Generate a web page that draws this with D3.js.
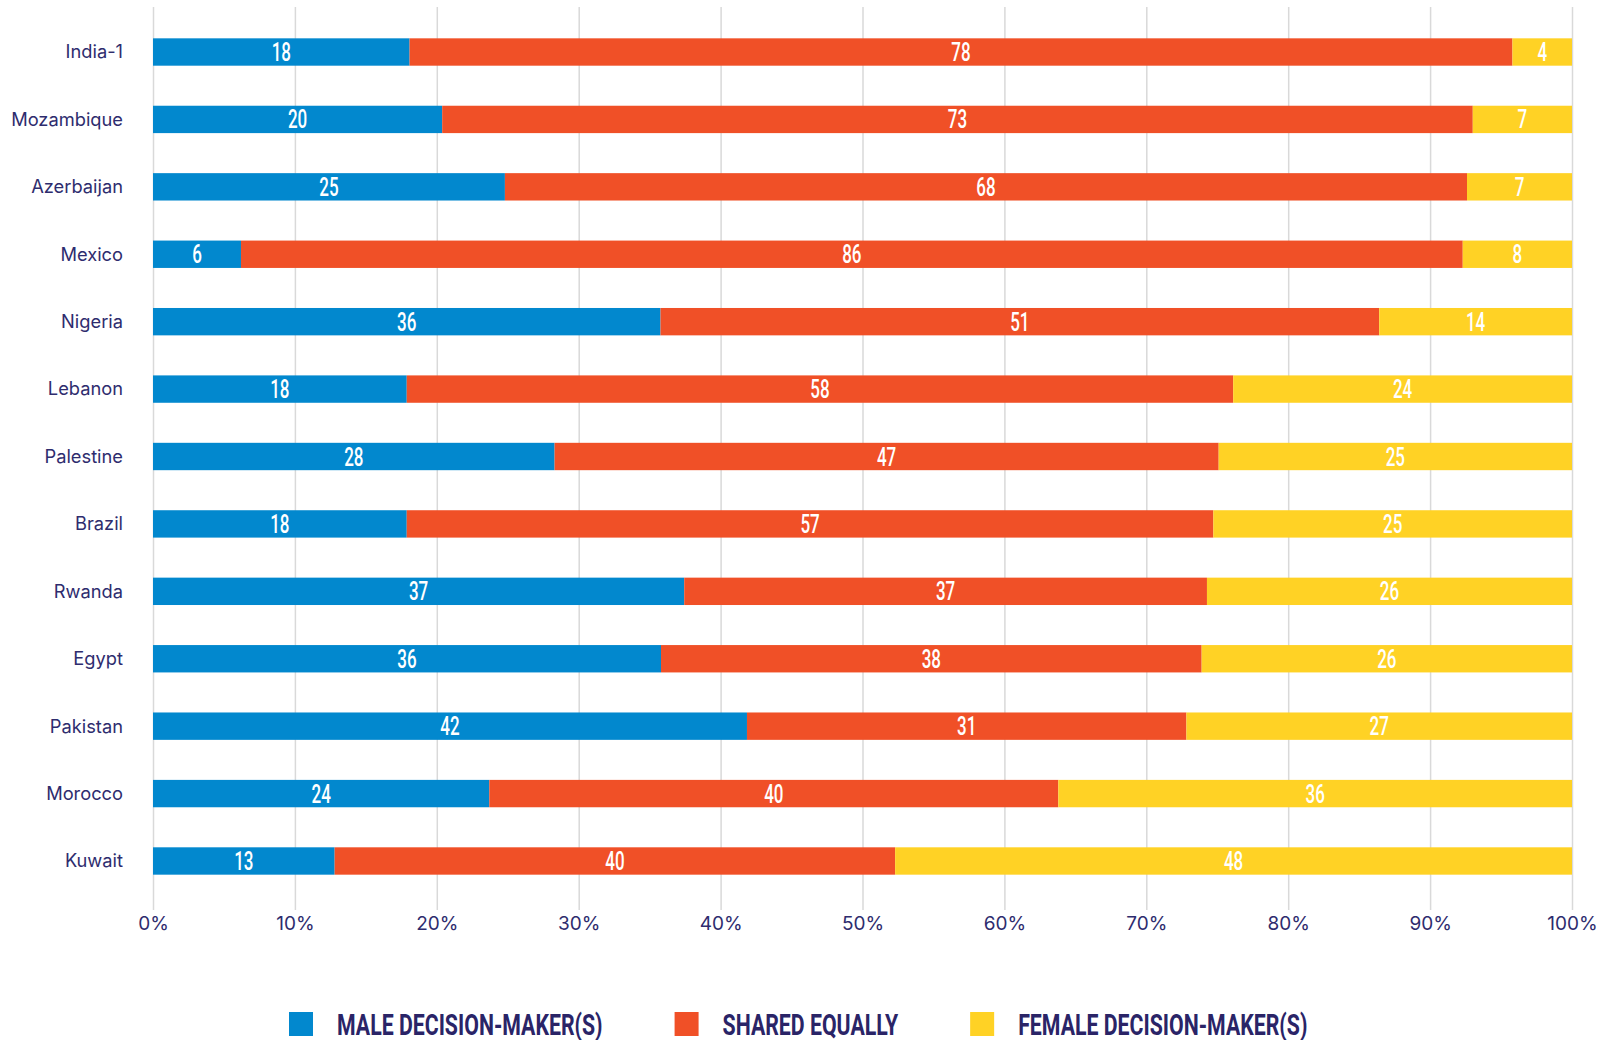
<!DOCTYPE html>
<html>
<head>
<meta charset="utf-8">
<script src="https://cdn.jsdelivr.net/npm/d3@7"></script>
<style>
  html, body { margin: 0; padding: 0; background: #ffffff; }
  svg { display: block; }
</style>
</head>
<body>
<svg id="chart" width="1610" height="1040"></svg>
<script>
// ---- data ----
const categories = ["India-1","Mozambique","Azerbaijan","Mexico","Nigeria","Lebanon","Palestine","Brazil","Rwanda","Egypt","Pakistan","Morocco","Kuwait"];
const seriesNames = ["MALE DECISION-MAKER(S)","SHARED EQUALLY","FEMALE DECISION-MAKER(S)"];
const male   = [18.1, 20.4, 24.8,  6.2, 35.8, 17.9, 28.3, 17.9, 37.4, 35.8, 41.9, 23.7, 12.8];
const shared = [77.8, 72.7, 67.8, 86.1, 50.7, 58.3, 46.8, 56.9, 36.8, 38.1, 31.0, 40.1, 39.5];
const female = [ 4.2,  7.0,  7.4,  7.7, 13.6, 23.9, 24.9, 25.3, 25.7, 26.1, 27.2, 36.2, 47.7];
const tickValues = [0, 0.1, 0.2, 0.3, 0.4, 0.5, 0.6, 0.7, 0.8, 0.9, 1];
const tickLabels = ["0%","10%","20%","30%","40%","50%","60%","70%","80%","90%","100%"];

// ---- style ----
const colors = ["#0288CE", "#F05027", "#FFD225"];
const navy = "#2E2C6E";
const keys = ["male", "shared", "female"];

const rows = categories.map((c, i) => ({ country: c, male: male[i], shared: shared[i], female: female[i] }));
const stacked = d3.stack().keys(keys).offset(d3.stackOffsetExpand)(rows);

const svg = d3.select("#chart");

const x = d3.scaleLinear().domain([0, 1]).range([153, 1572]);
const y = d3.scaleBand().domain(categories).range([18.3, 894.7]).paddingInner(0.594).paddingOuter(0.297);

// gridlines + tick labels
const axisY = 910;
const axis = d3.axisBottom(x)
  .tickValues(tickValues)
  .tickFormat((d, i) => tickLabels[i])
  .tickSizeInner(-(axisY - 7))
  .tickSizeOuter(0)
  .tickPadding(7);
const gAxis = svg.append("g").attr("transform", `translate(0,${axisY})`).call(axis);
gAxis.select(".domain").remove();
gAxis.selectAll(".tick line").attr("stroke", "#d9d9d9").attr("stroke-width", 1.5);
gAxis.selectAll(".tick text")
  .attr("fill", navy)
  .style("font-family", "Inter, 'Noto Sans', sans-serif")
  .style("font-size", "19px");

// category labels
svg.append("g").selectAll("text").data(categories).join("text")
  .attr("x", 123)
  .attr("y", d => y(d) + y.bandwidth() / 2)
  .attr("dy", "0.35em")
  .attr("text-anchor", "end")
  .attr("fill", navy)
  .style("font-family", "Inter, 'Noto Sans', sans-serif")
  .style("font-size", "18.3px")
  .text(d => d);

// bars
const layers = svg.append("g").selectAll("g").data(stacked).join("g")
  .attr("fill", (d, i) => colors[i]);
layers.selectAll("rect").data(d => d).join("rect")
  .attr("x", d => x(d[0]))
  .attr("width", d => x(d[1]) - x(d[0]))
  .attr("y", d => y(d.data.country))
  .attr("height", y.bandwidth());

// value labels
const lab = svg.append("g");
stacked.forEach((layer, li) => {
  lab.selectAll(null).data(layer).join("text")
    .attr("transform", d => `translate(${(x(d[0]) + x(d[1])) / 2},${y(d.data.country) + y.bandwidth() / 2 + 9}) scale(0.68,1)`)
    .attr("text-anchor", "middle")
    .attr("fill", "#ffffff")
    .style("font-family", "Roboto, 'DejaVu Sans', sans-serif")
    .style("font-weight", 500)
    .style("font-size", "25px")
    .text(d => Math.round(d.data[keys[li]]));
});

// legend
const legend = svg.append("g").attr("transform", "translate(289,1012)");
let lx = 0;
seriesNames.forEach((name, i) => {
  legend.append("rect").attr("x", lx).attr("y", 0).attr("width", 24).attr("height", 24).attr("fill", colors[i]);
  const t = legend.append("text")
    .attr("transform", `translate(${lx + 48},22.5) scale(0.71,1)`)
    .attr("fill", "#2A2467")
    .style("font-family", "Roboto, 'DejaVu Sans', sans-serif")
    .style("font-weight", 700)
    .style("font-size", "30px")
    .text(name);
  const w = t.node().getComputedTextLength() * 0.71;
  lx += 48 + w + 72;
});
</script>
</body>
</html>
